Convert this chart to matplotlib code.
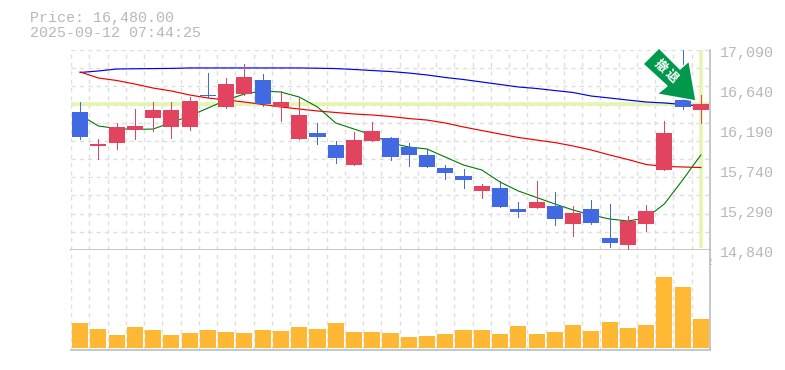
import numpy as np
import matplotlib
matplotlib.use("Agg")
import matplotlib.pyplot as plt
from matplotlib.patches import Polygon, Rectangle
from matplotlib.transforms import IdentityTransform

W, H = 785, 370
GRID = "#dedede"
FRAME = "#bdbdbd"
LABEL = "#b8b8b8"
LIME = "#e4f5b0"
UP = "#e2445f"
DOWN = "#4169e1"
MONO = "Liberation Mono"

opens = [16395, 16010, 16047, 16190, 16325, 16227, 16227, 16584, 16452, 16598, 16752, 16452,
         16089, 16156, 16021, 15796, 16066, 16100, 15999, 15909, 15762, 15672, 15504, 15537,
         15301, 15312, 15335, 15132, 15301, 14975, 14896, 15132, 15740, 16527, 16415]
highs = [16505, 16085, 16265, 16426, 16505, 16505, 16561, 16831, 16775, 16933, 16820, 16629,
         16550, 16269, 16066, 16167, 16280, 16111, 16044, 15965, 15796, 15751, 15582, 15616,
         15380, 15616, 15492, 15335, 15402, 15357, 15222, 15346, 16291, 17090, 16584]
lows = [16090, 15867, 15980, 16092, 16182, 16103, 16190, 16558, 16441, 16584, 16463, 16291,
        16089, 16036, 15822, 15796, 16066, 15856, 15785, 15774, 15642, 15541, 15428, 15324,
        15215, 15312, 15121, 14998, 15132, 14874, 14829, 15054, 15740, 16426, 16269]
closes = [16115, 16032, 16224, 16235, 16415, 16415, 16516, 16572, 16707, 16786, 16486, 16505,
          16359, 16111, 15875, 16077, 16179, 15886, 15909, 15774, 15706, 15627, 15560, 15324,
          15267, 15380, 15189, 15256, 15144, 14919, 15166, 15279, 16156, 16449, 16480]

ma_short = [16359, 16235, 16207, 16196, 16201, 16274, 16348, 16437, 16527, 16595, 16629, 16617,
            16561, 16449, 16269, 16201, 16134, 16044, 15999, 15976, 15886, 15796, 15740, 15605,
            15504, 15431, 15358, 15290, 15234, 15189, 15166, 15200, 15358, 15627, 15909]
ma_mid = [16843, 16775, 16747, 16707, 16662, 16629, 16584, 16550, 16527, 16505, 16477, 16449,
          16426, 16404, 16387, 16370, 16359, 16342, 16319, 16302, 16269, 16224, 16184, 16145,
          16106, 16077, 16049, 16010, 15965, 15909, 15858, 15802, 15780, 15774, 15768]
ma_long = [16837, 16854, 16876, 16879, 16881, 16883, 16888, 16888, 16888, 16888, 16888, 16888,
           16888, 16885, 16881, 16871, 16859, 16848, 16831, 16809, 16781, 16758, 16730, 16702,
           16674, 16657, 16634, 16612, 16572, 16550, 16527, 16505, 16494, 16477, 16460]

volumes = [25, 19, 13, 21, 18, 13, 15, 18, 16, 15, 18, 17, 21, 19, 25, 16, 16, 15,
           11, 12, 14, 18, 18, 14, 22, 14, 16, 23, 17, 26, 20, 23, 71, 61, 29]

date_pos = [4, 9, 14, 19, 24, 29, 34]
date_labels = ["7/31", "8/7", "8/15", "8/22", "8/29", "9/5", "9/12"]
price_ticks = [17090, 16640, 16190, 15740, 15290, 14840]
last_price = 16480


def px_axes(left, top, right, bottom):
    return fig.add_axes([left / W, 1 - bottom / H, (right - left) / W, (bottom - top) / H])


fig = plt.figure(figsize=(W / 100, H / 100), dpi=100, facecolor="white")
ax = px_axes(71, 50, 710, 250)
vol = px_axes(71, 250, 710, 350)
n = len(closes)
xs = np.arange(n)

for a in (ax, vol):
    a.set_xlim(-0.5, n - 0.5)
    a.set_xticks(np.arange(-0.5, n, 1))
    a.tick_params(length=0, labelbottom=False, labelleft=False)
    a.grid(axis="x", color=GRID, lw=1, ls=(0, (3, 3)))
    a.set_axisbelow(True)
    for s in a.spines.values():
        s.set_visible(False)
    for side in ("right", "bottom"):
        a.spines[side].set_visible(True)
        a.spines[side].set_color(FRAME)
        a.spines[side].set_linewidth(1.2)

ax.set_ylim(14840, 17090)
ax.set_yticks(np.linspace(14840, 17090, 12))
ax.grid(axis="y", color=GRID, lw=1, ls=(0, (3, 3)))

ax.axhline(last_price, color=LIME, lw=2.6, zorder=1)
ax.plot([n - 1, n - 1], [14860, 17090], color=LIME, lw=2.6, zorder=1, solid_capstyle="butt")

ax.plot(xs, ma_long, color="#0000ee", lw=0.85, zorder=2)
ax.plot(xs, ma_mid, color="#ee0000", lw=0.85, zorder=2)
ax.plot(xs, ma_short, color="#007a00", lw=0.8, zorder=2)

for i in range(n):
    color = UP if closes[i] >= opens[i] else DOWN
    ax.plot([i, i], [lows[i], highs[i]], color=color, lw=0.72, zorder=3, clip_on=False,
            solid_capstyle="butt", antialiased=False)
    ax.add_patch(Rectangle((i - 0.44, min(opens[i], closes[i])), 0.88, abs(closes[i] - opens[i]),
                           color=color, lw=0, zorder=4))

vol.bar(xs, volumes, width=0.88, color="#ffb833", zorder=3)
vol.set_ylim(-2, 98)
vol.set_yticks([])

for p in price_ticks:
    ax.annotate(f"{p:,}", (1, p), xycoords=("axes fraction", "data"), xytext=(10, -3),
                textcoords="offset pixels", fontsize=10.8, family=MONO, color=LABEL,
                ha="left", va="center", annotation_clip=False)
for pos, lab in zip(date_pos, date_labels):
    ax.annotate(lab, (pos, 0), xycoords=("data", "axes fraction"), xytext=(0, -12),
                textcoords="offset pixels", fontsize=7.4, family=MONO, color=LABEL,
                ha="center", va="center", annotation_clip=False)

fig.text(30 / W, 1 - 18 / H, f"Price: {last_price:,.2f}", fontsize=10.8, family=MONO,
         color=LABEL, ha="left", va="center")
fig.text(30 / W, 1 - 33 / H, "2025-09-12 07:44:25", fontsize=10.8, family=MONO,
         color=LABEL, ha="left", va="center")

# sell marker, placed in screen pixels
arrow = [(659, 48), (643, 64), (667, 86), (657, 94), (696, 101), (689, 61), (680, 69)]
fig.add_artist(Polygon([(x, H - y) for x, y in arrow], closed=True, transform=IdentityTransform(),
                       facecolor="#00994c", edgecolor="white", lw=1, zorder=10))
for (x, y), ch in zip([(660.5, 66), (671.5, 76)], "撤退"):
    fig.text(x / W, 1 - y / H, ch, rotation=-45, rotation_mode="anchor", fontsize=9,
             family="Noto Sans CJK JP", fontweight="bold", color="white",
             ha="center", va="center", zorder=11)

fig.savefig("out.png", dpi=100, facecolor="white")
